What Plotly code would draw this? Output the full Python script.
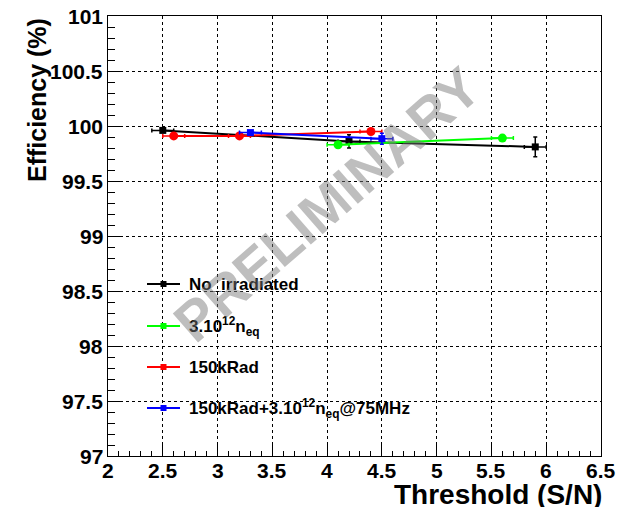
import plotly.graph_objects as go

# ---------------- data ----------------
names = ["No_irradiated", "3.10<sup>12</sup>n<sub>eq</sub>", "150kRad",
         "150kRad+3.10<sup>12</sup>n<sub>eq</sub>@75MHz"]
colors = ["#000000", "#00ff00", "#ff0000", "#0000ff"]
symbols = ["square", "circle", "circle", "square"]

noirr_x = [2.5, 4.2, 5.9]
noirr_y = [99.96, 99.86, 99.81]
noirr_ex = [0.1, 0.1, 0.1]
noirr_ey = [0.01, 0.06, 0.09]

neq_x = [4.1, 5.6]
neq_y = [99.83, 99.89]
neq_ex = [0.1, 0.1]
neq_ey = [0.02, 0.02]

krad_x = [2.6, 3.2, 4.4]
krad_y = [99.91, 99.91, 99.95]
krad_ex = [0.1, 0.1, 0.1]
krad_ey = [0.015, 0.015, 0.015]

both_x = [3.3, 4.5]
both_y = [99.94, 99.885]
both_ex = [0.1, 0.1]
both_ey = [0.01, 0.05]

x_ticks = [2, 2.5, 3, 3.5, 4, 4.5, 5, 5.5, 6, 6.5]
x_labels = ["2", "2.5", "3", "3.5", "4", "4.5", "5", "5.5", "6", "6.5"]
y_ticks = [97, 97.5, 98, 98.5, 99, 99.5, 100, 100.5, 101]
y_labels = ["97", "97.5", "98", "98.5", "99", "99.5", "100", "100.5", "101"]

xs = [noirr_x, neq_x, krad_x, both_x]
ys = [noirr_y, neq_y, krad_y, both_y]
exs = [noirr_ex, neq_ex, krad_ex, both_ex]
eys = [noirr_ey, neq_ey, krad_ey, both_ey]

x_range = [2, 6.5]
y_range = [97, 101]

# ---------------- figure ----------------
W, H = 618, 507
ml, mr, mt, mb = 108, 17, 16, 51
pw, ph = W - ml - mr, H - mt - mb

fig = go.Figure()
for i in range(4):
    sz = 7 if symbols[i] == "square" else 9
    fig.add_trace(go.Scatter(
        x=xs[i], y=ys[i], mode="lines+markers",
        line=dict(color=colors[i], width=2),
        marker=dict(color=colors[i], symbol=symbols[i], size=sz),
        error_x=dict(type="data", array=exs[i], color=colors[i], thickness=1.5, width=2),
        error_y=dict(type="data", array=eys[i], color=colors[i], thickness=1.5, width=2),
        showlegend=False, cliponaxis=False,
    ))

FONT = "Liberation Sans"

def px_to_paper(px, py):
    return (px - ml) / pw, 1 - (py - mt) / ph

shapes = []
annotations = []
legend_py = [284, 326, 367, 408]
for i in range(4):
    x0, y0 = px_to_paper(147, legend_py[i])
    x1, _ = px_to_paper(180, legend_py[i])
    shapes.append(dict(type="line", xref="paper", yref="paper", x0=x0, x1=x1, y0=y0, y1=y0,
                       line=dict(color=colors[i], width=2)))
    cx, cy = px_to_paper(163.5, legend_py[i])
    hx, hy = 3 / pw, 3 / ph
    shapes.append(dict(type="rect", xref="paper", yref="paper", x0=cx - hx, x1=cx + hx,
                       y0=cy - hy, y1=cy + hy, fillcolor=colors[i], line=dict(width=0)))
    tx, ty = px_to_paper(187, legend_py[i])
    annotations.append(dict(xref="paper", yref="paper", x=tx, y=ty, xanchor="left",
                            yanchor="middle", showarrow=False, text="<b>" + names[i] + "</b>",
                            font=dict(family=FONT, size=17, color="black")))

# bold tick labels placed on the axes' own scales
for v, t in zip(x_ticks, x_labels):
    annotations.append(dict(xref="x", yref="paper", x=v, y=0, xanchor="center", yanchor="top",
                            yshift=-1, showarrow=False, text="<b>" + t + "</b>",
                            font=dict(family=FONT, size=21, color="black")))
for v, t in zip(y_ticks, y_labels):
    annotations.append(dict(xref="paper", yref="y", x=0, y=v, xanchor="right", yanchor="middle",
                            xshift=-3, showarrow=False, text="<b>" + t + "</b>",
                            font=dict(family=FONT, size=21, color="black")))

# axis titles
tx, ty = px_to_paper(601, 494)
annotations.append(dict(xref="paper", yref="paper", x=1.0, y=ty, xanchor="right", yanchor="middle",
                        xshift=3, showarrow=False, text="<b>Threshold (S/N)</b>",
                        font=dict(family=FONT, size=28, color="black")))
tx, ty = px_to_paper(37, 16)
annotations.append(dict(xref="paper", yref="paper", x=tx, y=1, xanchor="center", yanchor="top",
                        showarrow=False, text="<b>Efficiency (%)</b>", textangle=-90,
                        font=dict(family=FONT, size=25, color="black")))
# watermark
wx, wy = px_to_paper(327, 204)
annotations.append(dict(xref="paper", yref="paper", x=wx, y=wy, xanchor="center", yanchor="middle",
                        showarrow=False, text="<b>PRELIMINARY</b>", textangle=-41,
                        font=dict(family=FONT, size=56, color="rgba(120,120,120,0.48)")))

axis_common = dict(
    showline=True, linecolor="black", linewidth=1, mirror=True,
    ticks="inside", tickcolor="black", tickwidth=1,
    showgrid=True, gridcolor="black", griddash="dot", gridwidth=1,
    zeroline=False, tickmode="array", showticklabels=False, automargin=False,
)

fig.update_xaxes(range=x_range, ticklen=12, tickvals=x_ticks,
                 minor=dict(ticks="inside", ticklen=5, tick0=2, dtick=0.1, tickcolor="black", showgrid=False),
                 **axis_common)
fig.update_yaxes(range=y_range, ticklen=14, tickvals=y_ticks,
                 minor=dict(ticks="inside", ticklen=7, tick0=97, dtick=0.1, tickcolor="black", showgrid=False),
                 **axis_common)

fig.update_layout(
    width=W, height=H,
    margin=dict(l=ml, r=mr, t=mt, b=mb, autoexpand=False),
    paper_bgcolor="white", plot_bgcolor="white",
    shapes=shapes, annotations=annotations,
    showlegend=False,
)

fig.write_html("out.html")
